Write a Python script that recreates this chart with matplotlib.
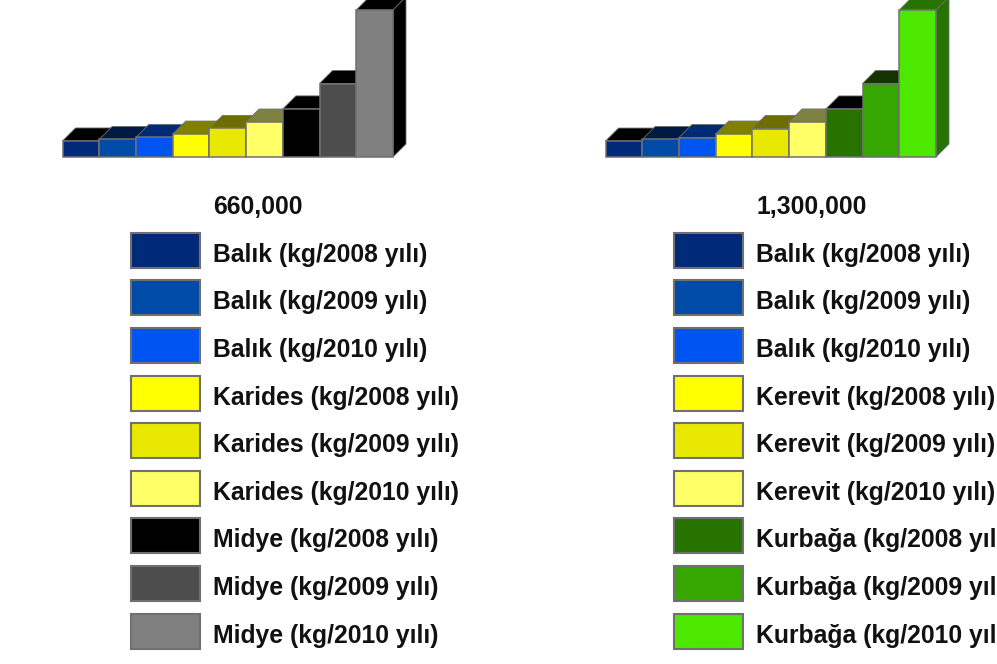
import matplotlib
matplotlib.use("Agg")
import matplotlib.pyplot as plt
from matplotlib.patches import Rectangle

W, H = 997, 664
plt.rcParams['font.family'] = ['Liberation Sans', 'DejaVu Sans']

fish = ["Balık (kg/2008 yılı)", "Balık (kg/2009 yılı)", "Balık (kg/2010 yılı)"]
left_labels = fish + ["Karides (kg/2008 yılı)", "Karides (kg/2009 yılı)", "Karides (kg/2010 yılı)",
                      "Midye (kg/2008 yılı)", "Midye (kg/2009 yılı)", "Midye (kg/2010 yılı)"]
right_labels = fish + ["Kerevit (kg/2008 yılı)", "Kerevit (kg/2009 yılı)", "Kerevit (kg/2010 yılı)",
                       "Kurbağa (kg/2008 yılı)", "Kurbağa (kg/2009 yılı)", "Kurbağa (kg/2010 yılı)"]
left_values = [72000, 79000, 88000, 103000, 128000, 157000, 216000, 330000, 660000]
right_values = [141000, 155000, 172000, 203000, 252000, 310000, 425000, 650000, 1300000]
left_title = "660,000"
right_title = "1,300,000"

common = ["#002A78", "#004AA8", "#0055F2", "#FFFF00", "#E8E800", "#FFFF66"]
left_colors = common + ["#000000", "#4D4D4D", "#808080"]
right_colors = common + ["#267300", "#36A600", "#4CE800"]
common_top = ["#000000", "#001A44", "#002A78", "#808000", "#6E6E00", "#808040"]
left_tops = common_top + ["#000000", "#000000", "#000000"]
right_tops = common_top + ["#000000", "#153300", "#267300"]
left_sides = ["#000000"] * 9
right_sides = ["#000000"] * 6 + ["#000000", "#153300", "#267300"]

fig = plt.figure(figsize=(W / 100, H / 100), dpi=100)
bg = fig.add_axes([0, 0, 1, 1])
bg.set_xlim(0, W)
bg.set_ylim(H, 0)
bg.axis("off")

EDGE = "#707070"
DX, DY = 13, 13


def chart(x0, x1, values, colors, tops, sides):
    ax = fig.add_axes([x0 / W, 1 - 157 / H, (x1 - x0) / W, 147 / H])
    ax.set_xlim(0, len(values))
    ax.set_ylim(0, max(values))
    ax.axis("off")
    for i, (v, c, t, s) in enumerate(zip(values, colors, tops, sides)):
        (xa, ya), (xb, yb), (xc, yc) = ax.transData.transform([(i, v), (i + 1, v), (i + 1, 0)])
        ax.add_patch(plt.Polygon([(xa, ya), (xb, yb), (xb + DX, yb + DY), (xa + DX, ya + DY)],
                                 closed=True, transform=None, fc=t, ec=EDGE, lw=0.6,
                                 clip_on=False, zorder=2 + i * 0.1))
        ax.add_patch(plt.Polygon([(xb, yb), (xc, yc), (xc + DX, yc + DY), (xb + DX, yb + DY)],
                                 closed=True, transform=None, fc=s, ec=EDGE, lw=0.6,
                                 clip_on=False, zorder=2 + i * 0.1))
        ax.bar(i, v, width=1, align="edge", color=c, edgecolor=EDGE, lw=1.1,
               clip_on=False, zorder=2.05 + i * 0.1)


def legend(x, title, labels, colors):
    bg.text(x + 82, 207.5, title, fontsize=17.8, fontweight="bold", color="#111111",
            va="center", ha="left")
    for k, (lab, c) in enumerate(zip(labels, colors)):
        yc = 250.3 + 47.6 * k
        bg.add_patch(Rectangle((x, yc - 17.5), 69, 35, fc=c, ec=EDGE, lw=1.5))
        bg.text(x + 82, yc + 4.5, lab, fontsize=17.8, fontweight="bold", color="#111111",
                va="center", ha="left")


chart(62.5, 393, left_values, left_colors, left_tops, left_sides)
chart(605.5, 936, right_values, right_colors, right_tops, right_sides)
legend(131, left_title, left_labels, left_colors)
legend(674, right_title, right_labels, right_colors)

fig.savefig("out.png", dpi=100, facecolor="white")
